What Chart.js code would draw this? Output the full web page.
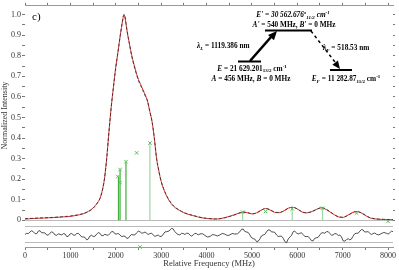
<!DOCTYPE html>
<html>
<head>
<meta charset="utf-8">
<script src="https://cdn.jsdelivr.net/npm/chart.js@4"></script>
<style>
  html, body { margin: 0; padding: 0; background: #fff; }
  #wrap { width: 399px; height: 270px; position: relative; }
</style>
</head>
<body>
<div id="wrap"><canvas id="c" width="399" height="270"></canvas></div>
<script>
// relative frequency (MHz) and normalized intensity of the measured line and fit
const freq = [0,200,400,600,800,1000,1100,1200,1300,1400,1500,1600,1650,1700,1750,1800,1850,1900,1950,2000,2050,2100,2150,2180,2200,2250,2300,2350,2400,2450,2500,2550,2600,2650,2700,2750,2800,2850,2900,2950,3000,3100,3200,3300,3400,3500,3600,3700,3800,3900,4000,4100,4200,4300,4400,4500,4600,4700,4800,4900,5000,5100,5200,5300,5400,5500,5600,5700,5800,5900,6000,6100,6200,6300,6400,6500,6550,6600,6700,6800,6900,7000,7100,7200,7300,7400,7500,7600,7700,7800,7900,8000,8110]
const fitVals = [0.008,0.010,0.012,0.014,0.017,0.021,0.024,0.028,0.034,0.043,0.058,0.085,0.105,0.14,0.2,0.3,0.43,0.55,0.65,0.74,0.82,0.9,0.97,1.0,0.995,0.92,0.86,0.80,0.755,0.715,0.68,0.655,0.63,0.605,0.58,0.53,0.48,0.40,0.30,0.24,0.19,0.13,0.09,0.065,0.05,0.038,0.03,0.024,0.018,0.013,0.010,0.008,0.007,0.008,0.012,0.018,0.025,0.033,0.04,0.038,0.032,0.035,0.048,0.058,0.052,0.04,0.038,0.045,0.058,0.064,0.056,0.042,0.037,0.04,0.05,0.06,0.062,0.058,0.045,0.03,0.018,0.015,0.022,0.035,0.043,0.038,0.025,0.013,0.008,0.006,0.005,0.004,0.003]
const dataVals = [0.006,0.009,0.011,0.013,0.016,0.019,0.023,0.027,0.033,0.044,0.06,0.087,0.106,0.142,0.2,0.3,0.43,0.55,0.65,0.745,0.82,0.9,0.97,1.0,0.99,0.92,0.86,0.805,0.76,0.72,0.685,0.66,0.635,0.61,0.58,0.53,0.48,0.40,0.30,0.24,0.19,0.128,0.088,0.063,0.049,0.037,0.029,0.023,0.017,0.012,0.009,0.007,0.006,0.008,0.013,0.019,0.026,0.034,0.04,0.037,0.031,0.036,0.049,0.057,0.05,0.039,0.037,0.046,0.059,0.063,0.055,0.041,0.036,0.041,0.051,0.06,0.061,0.057,0.044,0.029,0.017,0.014,0.023,0.036,0.043,0.037,0.024,0.012,0.007,0.005,0.004,0.004,0.003]

// residuals (arbitrary units, lower panel)
const resFreq = [0,37,73,110,146,183,221,260,295,330,365,400,438,477,513,550,587,624,662,700,735,771,810,850,884,918,954,990,1027,1065,1102,1140,1175,1211,1250,1290,1324,1358,1394,1430,1467,1505,1542,1580,1616,1652,1686,1720,1760,1799,1835,1870,1908,1946,1983,2020,2056,2093,2131,2170,2205,2240,2275,2310,2348,2386,2423,2460,2496,2533,2571,2610,2645,2680,2715,2750,2788,2827,2863,2900,2937,2974,3012,3050,3085,3120,3175,3231,3265,3300,3357,3414,3452,3490,3525,3561,3600,3640,3674,3708,3744,3780,3817,3855,3907,3960,4017,4075,4127,4180,4237,4295,4347,4400,4457,4515,4567,4620,4678,4736,4772,4809,4844,4880,4918,4956,4993,5030,5066,5103,5141,5180,5214,5249,5284,5320,5358,5396,5433,5470,5506,5543,5581,5620,5655,5690,5727,5764,5802,5840,5875,5910,5945,5980,6018,6057,6093,6130,6167,6204,6242,6280,6315,6351,6385,6420,6459,6498,6534,6570,6607,6645,6682,6720,6755,6791,6830,6870,6904,6938,6974,7011,7050,7090,7124,7159,7194,7230,7268,7306,7343,7380,7416,7452,7486,7520,7560,7599,7634,7670,7708,7746,7798,7850,7908,7966,8003,8040,8075,8110]
const resVals = [0.0,0.14,0.10,0.3,0.44,0.33,0.10,0.1,0.40,0.45,0.21,0.2,0.19,-0.06,-0.08,0.15,0.31,0.22,-0.06,-0.1,0.08,0.02,-0.06,0.1,0.05,-0.25,-0.22,0.05,0.12,-0.06,-0.10,0.1,0.14,-0.06,-0.30,-0.3,-0.36,-0.65,-0.55,-0.2,-0.10,-0.25,-0.22,0.05,0.22,0.14,-0.13,-0.15,0.02,-0.06,-0.10,0.1,0.34,0.33,0.07,0.05,0.12,-0.06,-0.25,-0.2,-0.21,-0.45,-0.45,-0.2,-0.01,-0.06,-0.05,0.2,0.39,0.33,0.15,0.2,0.29,0.14,0.0,0.1,0.14,-0.06,-0.23,-0.15,-0.08,-0.25,-0.22,0.05,0.31,0.33,0.41,0.73,0.66,0.35,0.03,-0.06,0.14,0.1,0.0,0.14,0.14,-0.1,-0.20,-0.06,0.14,0.1,-0.05,0.05,0.10,-0.1,-0.30,-0.25,-0.03,-0.05,-0.18,-0.06,0.12,0.05,-0.13,-0.06,0.12,0.05,0.07,0.33,0.61,0.65,0.36,0.3,0.24,-0.06,-0.40,-0.5,-0.56,-0.85,-0.80,-0.5,-0.16,-0.06,0.0,0.3,0.54,0.53,0.30,0.3,0.24,-0.06,-0.25,-0.2,-0.21,-0.45,-0.85,-1.0,-0.53,-0.3,-0.10,0.33,0.39,0.2,0.05,0.14,0.19,0.0,-0.25,-0.25,-0.26,-0.5,-0.75,-0.76,-0.46,-0.4,-0.35,-0.06,0.19,0.2,0.15,0.33,0.34,0.1,-0.10,-0.06,0.12,0.05,-0.13,-0.06,-0.29,-0.76,-0.80,-0.6,-0.51,-0.65,-0.55,-0.2,0.09,0.14,0.15,0.4,0.59,0.53,0.30,0.3,0.34,0.14,0.0,0.1,0.18,0.02,-0.06,0.1,0.24,0.14,0.05,0.2,0.39,0.33]

// hyperfine components (sticks) and fitted positions (crosses)
const stickFreq = [2060,2095,2225,2753,4795,5888,6557]
const stickVals = [0.213,0.247,0.285,0.376,0.04,0.056,0.059]
const stickLight = [false,false,false,true,true,true,true]
const markFreq = [2045,2095,2095,2225,2460,2753,4795,5302,5888,6557,7306,8002]
const markVals = [0.213,0.247,0.184,0.285,0.328,0.376,0.04,0.043,0.056,0.059,0.035,-0.005]
const resMarkFreq = [2533]

const xTickVals = [0,500,1000,1500,2000,2500,3000,3500,4000,4500,5000,5500,6000,6500,7000,7500,8000]
const yTickVals = [0,0.05,0.1,0.15,0.2,0.25,0.3,0.35,0.4,0.45,0.5,0.55,0.6,0.65,0.7,0.75,0.8,0.85,0.9,0.95,1.0]

const serif = '"Liberation Serif", "DejaVu Serif", serif'

function pts(xs, ys) { return xs.map((x, i) => ({ x: x, y: ys[i] })) }

function sticks(light) {
  const out = []
  stickFreq.forEach((f, i) => {
    if (stickLight[i] !== light) return
    out.push({ x: f, y: 0 }, { x: f, y: stickVals[i] }, { x: f, y: null })
  })
  return out
}

// rich text: parts are [text, kind, italic] with kind n / sub / sup
function rich(ctx, parts, x, y, align, size) {
  const fontOf = (k, it) => (it ? 'italic ' : '') + 'bold ' + ((k === 'sub' || k === 'sup') ? size * 0.68 : size) + 'px ' + serif
  let w = 0
  parts.forEach(p => { ctx.font = fontOf(p[1], p[2]); w += ctx.measureText(p[0]).width })
  let cx = align === 'center' ? x - w / 2 : x
  ctx.textBaseline = 'alphabetic'
  ctx.textAlign = 'left'
  parts.forEach(p => {
    ctx.font = fontOf(p[1], p[2])
    let dy = 0
    if (p[1] === 'sub') dy = size * 0.25
    if (p[1] === 'sup') dy = -size * 0.38
    ctx.fillText(p[0], cx, y + dy)
    cx += ctx.measureText(p[0]).width
  })
}

function arrowHead(ctx, x0, y0, x1, y1, len, wid) {
  const a = Math.atan2(y1 - y0, x1 - x0)
  ctx.beginPath()
  ctx.moveTo(x1, y1)
  ctx.lineTo(x1 - len * Math.cos(a) + wid * Math.sin(a), y1 - len * Math.sin(a) - wid * Math.cos(a))
  ctx.lineTo(x1 - len * Math.cos(a) - wid * Math.sin(a), y1 - len * Math.sin(a) + wid * Math.cos(a))
  ctx.closePath()
  ctx.fill()
}

const diagram = {
  id: 'diagram',
  afterDraw(chart) {
    const ctx = chart.ctx
    ctx.save()
    ctx.fillStyle = '#000'
    ctx.font = '11px ' + serif
    ctx.textBaseline = 'alphabetic'
    ctx.fillText('c)', 32, 20)

    // levels
    ctx.strokeStyle = '#000'
    ctx.lineWidth = 2
    ctx.beginPath()
    ctx.moveTo(265, 30.5); ctx.lineTo(312, 30.5)
    ctx.moveTo(238, 61.5); ctx.lineTo(261, 61.5)
    ctx.moveTo(330, 70); ctx.lineTo(352, 70)
    ctx.stroke()

    // laser excitation
    ctx.lineWidth = 2.6
    ctx.beginPath()
    ctx.moveTo(250, 61); ctx.lineTo(271, 37)
    ctx.stroke()
    arrowHead(ctx, 250, 61, 277, 31, 9, 4)

    // fluorescence
    ctx.lineWidth = 1.5
    ctx.setLineDash([3, 3])
    ctx.beginPath()
    ctx.moveTo(311, 31); ctx.lineTo(335, 62)
    ctx.stroke()
    ctx.setLineDash([])
    arrowHead(ctx, 311, 31, 340, 69, 8, 3.5)

    const s = 7.3
    rich(ctx, [["E' = 30 562.676", 'n', true], ['o', 'sup', true], ['11/2', 'sub', true], [' cm', 'n', true], ['-1', 'sup', true]], 293, 17, 'center', s)
    rich(ctx, [["A'", 'n', true], [' = 540 MHz, ', 'n'], ["B'", 'n', true], [' = 0 MHz', 'n']], 294, 27, 'center', s)
    rich(ctx, [['λ', 'n', true], ['L', 'sub', true], [' = 1119.386 nm', 'n']], 197, 48, 'left', s)
    rich(ctx, [['λ', 'n', true], ['F', 'sub', true], [' = 518.53 nm', 'n']], 323, 50, 'left', s)
    rich(ctx, [['E', 'n', true], [' = 21 629.201', 'n'], ['13/2', 'sub'], [' cm', 'n'], ['-1', 'sup']], 252, 70.5, 'center', s)
    rich(ctx, [['A', 'n', true], [' = 456 MHz, ', 'n'], ['B', 'n', true], [' = 0 MHz', 'n']], 251, 80.5, 'center', s)
    rich(ctx, [['E', 'n', true], ['F', 'sub', true], [' = 11 282.87', 'n'], ['11/2', 'sub'], [' cm', 'n'], ['-1', 'sup']], 346, 81, 'center', s)
    ctx.restore()
  }
}

new Chart(document.getElementById('c'), {
  type: 'line',
  data: {
    datasets: [
      {
        data: sticks(false), borderColor: '#3fae3f', borderWidth: 1.2,
        pointRadius: 0, spanGaps: false, yAxisID: 'y', order: 5
      },
      {
        data: sticks(true), borderColor: '#9cd89c', borderWidth: 1.2,
        pointRadius: 0, spanGaps: false, yAxisID: 'y', order: 5
      },
      {
        data: pts(freq, dataVals), borderColor: '#e8332f', borderWidth: 1,
        pointRadius: 0, cubicInterpolationMode: 'monotone', yAxisID: 'y', order: 3
      },
      {
        data: pts(freq, fitVals), borderColor: '#333', borderWidth: 0.9, borderDash: [3, 2],
        pointRadius: 0, cubicInterpolationMode: 'monotone', yAxisID: 'y', order: 2
      },
      {
        data: pts(markFreq, markVals), showLine: false, pointStyle: 'crossRot',
        pointRadius: 2.5, pointBorderColor: '#5cbf5c', pointBorderWidth: 1,
        yAxisID: 'y', order: 1, clip: false
      },
      {
        data: pts(resFreq, resVals), borderColor: '#222', borderWidth: 0.8,
        pointRadius: 0, yAxisID: 'yRes', order: 2
      },
      {
        data: pts(resMarkFreq, [-1.5]), showLine: false, pointStyle: 'crossRot',
        pointRadius: 2.5, pointBorderColor: '#5cbf5c', pointBorderWidth: 1,
        yAxisID: 'yRes', order: 1, clip: false
      }
    ]
  },
  options: {
    responsive: false,
    animation: false,
    events: [],
    layout: { padding: { left: 0, right: 0, top: 0, bottom: 0 } },
    plugins: { legend: { display: false }, tooltip: { enabled: false } },
    scales: {
      x: {
        type: 'linear', position: 'bottom', min: 0, max: 8110,
        afterBuildTicks: s => { s.ticks = xTickVals.map(v => ({ value: v })) },
        afterFit: s => { s.height = 23 },
        ticks: {
          font: { family: serif, size: 8 }, color: '#333', padding: 1, maxRotation: 0,
          autoSkip: false, callback: v => (v % 1000 === 0 ? String(v) : '')
        },
        grid: { drawOnChartArea: false, tickLength: 3, color: '#777' },
        border: { color: '#999' },
        title: { display: true, text: 'Relative Frequency (MHz)', font: { family: serif, size: 8.5 }, color: '#333', padding: { top: 0, bottom: 1 } }
      },
      x2: {
        type: 'linear', position: 'top', min: 0, max: 8110,
        afterBuildTicks: s => { s.ticks = xTickVals.map(v => ({ value: v })) },
        afterFit: s => { s.height = 3 },
        ticks: { display: false },
        grid: { drawOnChartArea: false, tickLength: 3, color: '#777' },
        border: { color: '#999' }
      },
      // residual panel first: left boxes are stacked in reverse order
      yRes: {
        type: 'linear', position: 'left', stack: 'v', stackWeight: 22,
        min: -1.5, max: 1.1,
        afterBuildTicks: s => { s.ticks = [{ value: -1 }, { value: 1 }] },
        afterFit: s => { s.width = 25 },
        ticks: { display: false },
        grid: { drawOnChartArea: true, drawTicks: false, color: '#bbb' },
        border: { display: false }
      },
      y: {
        type: 'linear', position: 'left', stack: 'v', stackWeight: 222,
        min: -0.024, max: 1.0433,
        afterBuildTicks: s => { s.ticks = yTickVals.map(v => ({ value: v })) },
        afterFit: s => { s.width = 25 },
        ticks: {
          font: { family: serif, size: 8 }, color: '#333', padding: 1, autoSkip: false,
          callback: v => {
            const k = Math.round(v * 100)
            if (k % 10 !== 0) return ''
            return k === 0 ? '0' : (k / 100).toFixed(1)
          }
        },
        grid: {
          drawOnChartArea: true, tickLength: 3, tickColor: '#777',
          color: c => (c.tick && Math.abs(c.tick.value) < 1e-9 ? '#bbb' : 'rgba(0,0,0,0)')
        },
        border: { display: false },
        title: { display: true, text: 'Normalized Intensity', font: { family: serif, size: 8 }, color: '#333', padding: { top: 0, bottom: 1 } }
      },
      // mirrored tick marks on the right side
      yR: {
        type: 'linear', position: 'right', stack: 'vr', stackWeight: 222,
        min: -0.024, max: 1.0433,
        afterBuildTicks: s => { s.ticks = yTickVals.map(v => ({ value: v })) },
        afterFit: s => { s.width = 6 },
        ticks: { display: false },
        grid: { drawOnChartArea: false, tickLength: 2, color: '#777' },
        border: { display: false }
      },
      yResR: {
        type: 'linear', position: 'right', stack: 'vr', stackWeight: 22,
        min: -1.5, max: 1.1,
        afterFit: s => { s.width = 6 },
        ticks: { display: false },
        grid: { display: false },
        border: { display: false }
      }
    }
  },
  plugins: [diagram]
})
</script>
</body>
</html>
